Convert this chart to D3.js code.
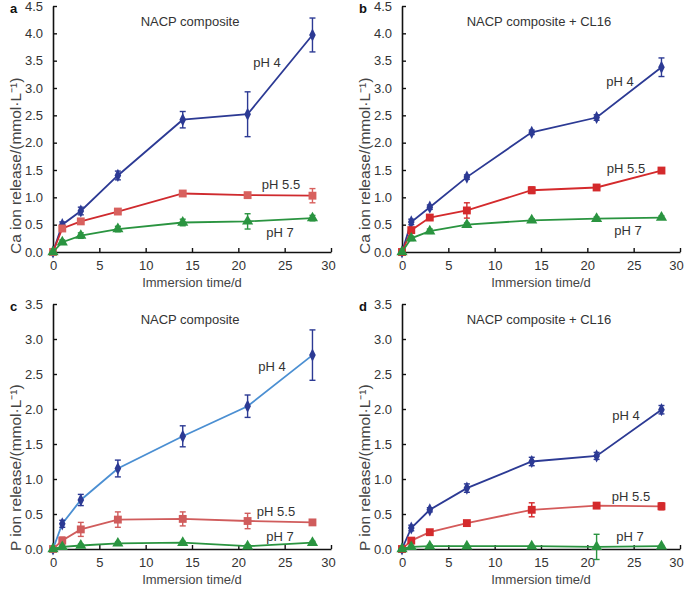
<!DOCTYPE html>
<html>
<head>
<meta charset="utf-8">
<script src="https://d3js.org/d3.v7.min.js"></script>
<style>
  body { margin: 0; background: #fff; }
  svg text { font-family: "Liberation Sans", Arial, sans-serif; }
</style>
</head>
<body>
<script>
// immersion times (days)
var days = [0, 1, 3, 7, 14, 21, 28];
var xTicks = [0, 5, 10, 15, 20, 25, 30];

// panel a: Ca, NACP composite
var caA_ph4 = [0, 0.50, 0.75, 1.40, 2.42, 2.52, 3.97];
var caA_ph4Err = [0, 0.05, 0.07, 0.08, 0.15, 0.41, 0.31];
var caA_ph55 = [0, 0.43, 0.56, 0.74, 1.07, 1.04, 1.03];
var caA_ph55Err = [0, 0.03, 0.04, 0.03, 0.03, 0.03, 0.13];
var caA_ph7 = [0, 0.18, 0.30, 0.42, 0.54, 0.56, 0.62];
var caA_ph7Err = [0, 0.04, 0.05, 0.05, 0.06, 0.14, 0.05];

// panel b: Ca, NACP composite + CL16
var caB_ph4 = [0, 0.55, 0.82, 1.37, 2.19, 2.46, 3.38];
var caB_ph4Err = [0, 0.05, 0.04, 0.04, 0.04, 0.05, 0.17];
var caB_ph55 = [0, 0.40, 0.63, 0.76, 1.13, 1.18, 1.49];
var caB_ph55Err = [0, 0.03, 0.04, 0.14, 0.06, 0.04, 0.02];
var caB_ph7 = [0, 0.25, 0.38, 0.50, 0.58, 0.61, 0.63];
var caB_ph7Err = [0, 0.04, 0.04, 0.03, 0.03, 0.03, 0.03];

// panel c: P, NACP composite
var pC_ph4 = [0, 0.36, 0.70, 1.15, 1.61, 2.04, 2.77];
var pC_ph4Err = [0, 0.05, 0.08, 0.12, 0.15, 0.16, 0.36];
var pC_ph55 = [0, 0.12, 0.28, 0.42, 0.43, 0.40, 0.38];
var pC_ph55Err = [0, 0.05, 0.10, 0.11, 0.10, 0.11, 0.02];
var pC_ph7 = [0, 0.03, 0.05, 0.08, 0.09, 0.04, 0.09];
var pC_ph7Err = [0, 0.02, 0.02, 0.02, 0.02, 0.02, 0.02];

// panel d: P, NACP composite + CL16
var pD_ph4 = [0, 0.30, 0.56, 0.87, 1.25, 1.33, 1.99];
var pD_ph4Err = [0, 0.04, 0.03, 0.06, 0.06, 0.05, 0.06];
var pD_ph55 = [0, 0.12, 0.24, 0.37, 0.56, 0.62, 0.61];
var pD_ph55Err = [0, 0.03, 0.03, 0.03, 0.10, 0.04, 0.05];
var pD_ph7 = [0, 0.03, 0.04, 0.04, 0.04, 0.03, 0.04];
var pD_ph7Err = [0, 0.01, 0.02, 0.01, 0.01, 0.18, 0.01];

var W = 685, H = 593;
var svg = d3.select("body").append("svg")
  .attr("width", W).attr("height", H);

var blue = "#2c3a94", green = "#2a9440";

var panels = [
  { letter: "a", title: "NACP composite", ylab: "Ca ion release/(mmol\u00b7L\u207b\u00b9)",
    x0: 53, x1: 331, y0: 252, y1: 6, ymax: 4.5,
    series: [
      { v: caA_ph4, e: caA_ph4Err, shape: "diamond", line: blue, fill: blue, label: "pH 4", lx: 267, ly: 67 },
      { v: caA_ph55, e: caA_ph55Err, shape: "square", line: "#cf2a2e", fill: "#d8615e", label: "pH 5.5", lx: 281, ly: 189 },
      { v: caA_ph7, e: caA_ph7Err, shape: "triangle", line: green, fill: green, label: "pH 7", lx: 280, ly: 237 }
    ]},
  { letter: "b", title: "NACP composite + CL16", ylab: "Ca ion release/(mmol\u00b7L\u207b\u00b9)",
    x0: 402, x1: 680, y0: 252, y1: 6, ymax: 4.5,
    series: [
      { v: caB_ph4, e: caB_ph4Err, shape: "diamond", line: blue, fill: blue, label: "pH 4", lx: 620, ly: 86 },
      { v: caB_ph55, e: caB_ph55Err, shape: "square", line: "#d42a2c", fill: "#d42a2c", label: "pH 5.5", lx: 626, ly: 173 },
      { v: caB_ph7, e: caB_ph7Err, shape: "triangle", line: green, fill: green, label: "pH 7", lx: 628, ly: 235 }
    ]},
  { letter: "c", title: "NACP composite", ylab: "P ion release/(mmol\u00b7L\u207b\u00b9)",
    x0: 53, x1: 331, y0: 549, y1: 304, ymax: 3.5,
    series: [
      { v: pC_ph4, e: pC_ph4Err, shape: "diamond", line: "#4b8fd2", fill: blue, label: "pH 4", lx: 272, ly: 371 },
      { v: pC_ph55, e: pC_ph55Err, shape: "square", line: "#d05c5c", fill: "#d05c5c", label: "pH 5.5", lx: 276, ly: 516 },
      { v: pC_ph7, e: pC_ph7Err, shape: "triangle", line: green, fill: green, label: "pH 7", lx: 280, ly: 541 }
    ]},
  { letter: "d", title: "NACP composite + CL16", ylab: "P ion release/(mmol\u00b7L\u207b\u00b9)",
    x0: 402, x1: 680, y0: 549, y1: 304, ymax: 3.5,
    series: [
      { v: pD_ph4, e: pD_ph4Err, shape: "diamond", line: blue, fill: blue, label: "pH 4", lx: 626, ly: 420 },
      { v: pD_ph55, e: pD_ph55Err, shape: "square", line: "#d45a5a", fill: "#d42a2c", label: "pH 5.5", lx: 631, ly: 501 },
      { v: pD_ph7, e: pD_ph7Err, shape: "triangle", line: green, fill: green, label: "pH 7", lx: 630, ly: 541 }
    ]}
];

var symbols = {
  diamond: d3.symbol().type(d3.symbolDiamond).size(38),
  square: d3.symbol().type(d3.symbolSquare).size(62),
  triangle: d3.symbol().type(d3.symbolTriangle).size(54)
};

panels.forEach(function(p) {
  var x = d3.scaleLinear().domain([0, 30]).range([p.x0, p.x1]);
  var y = d3.scaleLinear().domain([0, p.ymax]).range([p.y0, p.y1]);
  var g = svg.append("g");

  // axes, ticks pointing inward
  var xAxis = d3.axisBottom(x).tickValues(xTicks).tickSizeInner(-4).tickSizeOuter(0).tickPadding(9);
  var yTicks = d3.range(0, p.ymax + 0.01, 0.5);
  var yAxis = d3.axisLeft(y).tickValues(yTicks).tickSizeInner(-4).tickSizeOuter(0)
    .tickPadding(10).tickFormat(d3.format(".1f"));

  var gx = g.append("g").attr("transform", "translate(0," + p.y0 + ")").call(xAxis);
  var gy = g.append("g").attr("transform", "translate(" + p.x0 + ",0)").call(yAxis);
  [gx, gy].forEach(function(a) {
    a.select(".domain").attr("stroke", "#111").attr("stroke-width", 1.6);
    a.selectAll(".tick line").attr("stroke", "#111").attr("stroke-width", 1.4);
    a.selectAll(".tick text").attr("fill", "#333").style("font-size", "13px");
  });
  // last x label sits at the figure edge, pull it in a little
  gx.selectAll(".tick text").filter(function(d) { return d === 30; })
    .attr("dx", p.x1 > 600 ? -4 : -3);

  // titles
  g.append("text").attr("x", (p.x0 + p.x1) / 2 - 2).attr("y", p.y1 + 20)
    .attr("text-anchor", "middle").attr("fill", "#333").style("font-size", "13px").text(p.title);
  g.append("text").attr("x", p.x0 + 139).attr("y", p.y0 + 35)
    .attr("text-anchor", "middle").attr("fill", "#444").style("font-size", "13px").text("Immersion time/d");
  g.append("text").attr("transform", "translate(" + (p.x0 - 32) + "," + (p.y0 + 2) + ") rotate(-90)")
    .attr("text-anchor", "start").attr("fill", "#444").style("font-size", "15.5px").text(p.ylab);
  g.append("text").attr("x", p.x0 - 43).attr("y", p.y1 + 7)
    .attr("fill", "#111").style("font-size", "13px").style("font-weight", "bold").text(p.letter);

  // series
  p.series.forEach(function(s) {
    var pts = days.map(function(d, i) { return { t: d, v: s.v[i], e: s.e[i] }; });
    var line = d3.line().x(function(d) { return x(d.t); }).y(function(d) { return y(d.v); });
    g.append("path").datum(pts).attr("d", line)
      .attr("fill", "none").attr("stroke", s.line).attr("stroke-width", 1.8);

    var eb = g.append("g").attr("stroke", s.fill).attr("stroke-width", 1.4);
    pts.filter(function(d) { return d.e > 0; }).forEach(function(d) {
      var cx = x(d.t);
      eb.append("line").attr("x1", cx).attr("x2", cx).attr("y1", y(d.v - d.e)).attr("y2", y(d.v + d.e));
      eb.append("line").attr("x1", cx - 3).attr("x2", cx + 3).attr("y1", y(d.v - d.e)).attr("y2", y(d.v - d.e));
      eb.append("line").attr("x1", cx - 3).attr("x2", cx + 3).attr("y1", y(d.v + d.e)).attr("y2", y(d.v + d.e));
    });

    g.selectAll(null).data(pts).enter().append("path")
      .attr("transform", function(d) {
        return "translate(" + x(d.t) + "," + y(d.v) + ")" + (s.shape === "diamond" ? " scale(1,1.15)" : "");
      })
      .attr("d", symbols[s.shape])
      .attr("fill", s.fill);

    g.append("text").attr("x", s.lx).attr("y", s.ly).attr("text-anchor", "middle")
      .attr("fill", "#333").style("font-size", "13px").text(s.label);
  });
});
</script>
</body>
</html>
